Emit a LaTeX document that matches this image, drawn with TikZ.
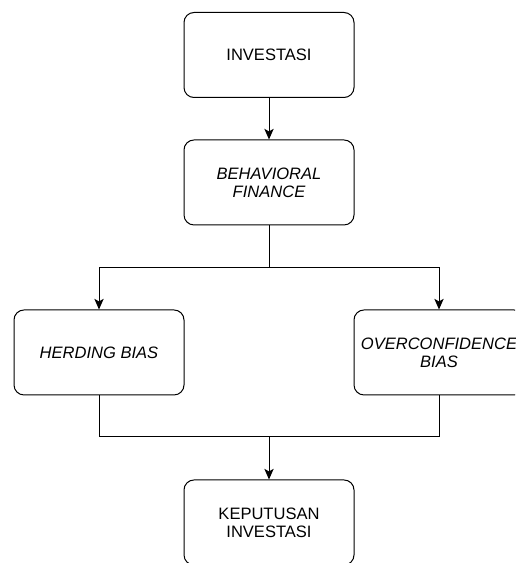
\documentclass[tikz,border=0pt]{standalone}
\usepackage{fontspec}
\setmainfont{Liberation Sans}
\usetikzlibrary{positioning,arrows.meta,calc}

\begin{document}
\begin{tikzpicture}[node distance=127.5pt,on grid,
  box/.style={draw,line width=0.75pt,rounded corners=7.5pt,
    minimum width=127.5pt,minimum height=63.75pt,inner sep=0pt,
    align=center,font=\fontsize{12.4}{13.7}\selectfont},
  arr/.style={line width=0.75pt,-{Stealth[length=8pt,width=7pt,inset=2pt]}},
  ln/.style={line width=0.75pt}]
 \clip (0,0) rectangle (386.25pt,-422.25pt);
 \node[box] (inv) at (201.75pt,-41.25pt) {INVESTASI};
 \node[box] (beh) [below=95.6pt of inv] {\itshape BEHAVIORAL\\\itshape FINANCE};
 \node[box] (herd) [below left=127.5pt and 127.5pt of beh] {\itshape HERDING BIAS};
 \node[box] (over) [below right=127.5pt and 127.5pt of beh] {\itshape OVERCONFIDENCE\\\itshape BIAS};
 \node[box] (kep) [below right=127.5pt and 127.5pt of herd] {KEPUTUSAN\\INVESTASI};
 % junctions
 \coordinate (split) at ($(beh.south)+(0,-31.5pt)$);
 \coordinate (merge) at ($(kep.north)+(0,32pt)$);
 \draw[arr] (inv) -- (beh);
 \draw[ln] (beh) -- (split);
 \draw[arr] (split) -| (herd.north);
 \draw[arr] (split) -| (over.north);
 \draw[ln] (herd) |- (merge);
 \draw[ln] (over) |- (merge);
 \draw[arr] (merge) -- (kep);
\end{tikzpicture}
\end{document}
